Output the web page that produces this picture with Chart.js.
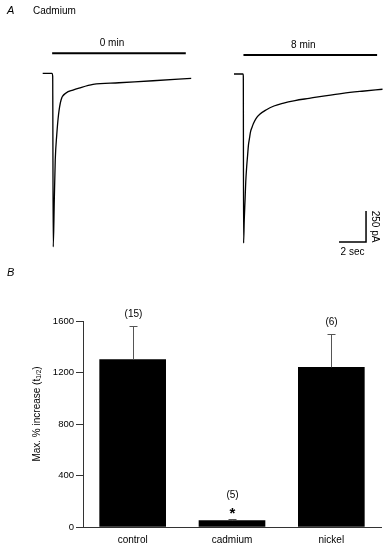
<!DOCTYPE html>
<html>
<head>
<meta charset="utf-8">
<script src="https://cdn.jsdelivr.net/npm/chart.js@4.4.1/dist/chart.umd.min.js"></script>
<style>
html, body { margin: 0; padding: 0; background: #fff; }
#page { position: relative; width: 388px; height: 548px; overflow: hidden; }
#page canvas { position: absolute; }
#barChart { left: 0; top: 0; }
#trace1 { left: 36px; top: 36px; }
#trace2 { left: 228px; top: 36px; }
</style>
</head>
<body>
<div id="page">
  <canvas id="barChart" width="388" height="548"></canvas>
  <canvas id="trace1" width="162" height="226"></canvas>
  <canvas id="trace2" width="160" height="226"></canvas>
</div>
<script>
const FONT = '"Liberation Sans", Arial, sans-serif'

// panel A: current traces (time in s, current in pA)
const trace0minT = [0, 0.69, 0.74, 0.78, 0.86, 0.93, 1.04, 1.17, 1.36, 1.73, 2.24, 2.69, 3.73, 5.65, 8.17, 11.0]
const trace0minI = [0, 0, -22, -1400, -1022, -699, -498, -336, -215, -159, -135, -119, -89, -76, -60, -40]
const trace8minT = [0, 0.67, 0.69, 0.71, 0.76, 0.82, 0.87, 0.94, 1.01, 1.07, 1.15, 1.22, 1.33, 1.44, 1.63, 1.93, 2.37, 2.96, 3.61, 4.52, 5.56, 6.74, 8.05, 9.48, 11.0]
const trace8minI = [0, 0, -16, -1363, -1177, -1016, -871, -748, -653, -573, -516, -468, -431, -399, -359, -323, -290, -258, -236, -214, -196, -176, -156, -139, -123]
const drugOn = [0.7, 10.6]      // application bar, s
const drugLevel = [161, 153]    // pA, where the bar sits above each trace
const drugLabels = ['0 min', '8 min']
const scaleBarT = [7.78, 9.78]  // 2 sec
const scaleBarI = [-1355, -1105] // 250 pA

// panel B: bar chart
const groups = ['control', 'cadmium', 'nickel']
const meanIncrease = [1300, 50, 1240]
const semIncrease = [265, 12, 260]
const nCells = ['(15)', '(5)', '(6)']
const significant = [false, true, false]

function pts(t, v) { return t.map((x, i) => ({x: x, y: v[i]})) }

function traceChart(id, t, cur, xr, yr, idx, withScale) {
    let datasets = [
        {data: pts(t, cur), borderColor: '#000', borderWidth: 1.3, pointRadius: 0, cubicInterpolationMode: 'monotone', clip: false},
        {data: pts(drugOn, [drugLevel[idx], drugLevel[idx]]), borderColor: '#000', borderWidth: 2, pointRadius: 0, clip: false}
    ]
    if (withScale) {
        datasets.push({
            data: [{x: scaleBarT[0], y: scaleBarI[0]}, {x: scaleBarT[1], y: scaleBarI[0]}, {x: scaleBarT[1], y: scaleBarI[1]}],
            borderColor: '#000', borderWidth: 1.5, pointRadius: 0, tension: 0, clip: false
        })
    }
    const labels = {
        id: 'traceLabels',
        afterDraw(chart) {
            const c = chart.ctx, xs = chart.scales.x, ys = chart.scales.y
            c.save()
            c.fillStyle = '#000'
            c.font = '10px ' + FONT
            c.textAlign = 'center'
            c.textBaseline = 'middle'
            let mx = xs.getPixelForValue((drugOn[0] + drugOn[1]) / 2) - 7
            c.fillText(drugLabels[idx], mx, ys.getPixelForValue(drugLevel[idx]) - 10)
            if (withScale) {
                let bx = xs.getPixelForValue(scaleBarT[1])
                let by = ys.getPixelForValue(scaleBarI[0])
                c.fillText('2 sec', (xs.getPixelForValue(scaleBarT[0]) + bx) / 2, by + 10)
                c.save()
                c.translate(bx + 9, (by + ys.getPixelForValue(scaleBarI[1])) / 2)
                c.rotate(Math.PI / 2)
                c.fillText('250 pA', 0, 0)
                c.restore()
            }
            c.restore()
        }
    }
    return new Chart(document.getElementById(id), {
        type: 'line',
        data: {datasets: datasets},
        options: {
            responsive: false,
            animation: false,
            layout: {padding: 0, autoPadding: false},
            plugins: {legend: {display: false}, tooltip: {enabled: false}},
            scales: {
                x: {type: 'linear', min: xr[0], max: xr[1], display: false},
                y: {type: 'linear', min: yr[0], max: yr[1], display: false}
            }
        },
        plugins: [labels]
    })
}

traceChart('trace1', trace0minT, trace0minI, [-0.496, 11.504], [-1522, 301], 0, false)
traceChart('trace2', trace8minT, trace8minI, [-0.444, 11.407], [-1516, 306.5], 1, true)

const errorBars = {
    id: 'errorBars',
    afterDatasetsDraw(chart) {
        const c = chart.ctx, ys = chart.scales.y
        const meta = chart.getDatasetMeta(0)
        c.save()
        meta.data.forEach((bar, i) => {
            let x = Math.round(bar.x) + 0.5
            let yb = ys.getPixelForValue(meanIncrease[i])
            let yt = Math.round(ys.getPixelForValue(meanIncrease[i] + semIncrease[i])) + 0.5
            c.strokeStyle = '#555'
            c.lineWidth = 1
            c.beginPath()
            c.moveTo(x, yb)
            c.lineTo(x, yt)
            c.moveTo(x - 4, yt)
            c.lineTo(x + 4, yt)
            c.stroke()
            c.fillStyle = '#000'
            c.textAlign = 'center'
            c.textBaseline = 'middle'
            c.font = '10px ' + FONT
            if (significant[i]) {
                c.fillText(nCells[i], x, yt - 24)
                c.font = 'bold 15px ' + FONT
                c.fillText('*', x, yt - 6)
            } else {
                c.fillText(nCells[i], x, yt - 12)
            }
        })
        c.restore()
    }
}

const panelText = {
    id: 'panelText',
    afterDraw(chart) {
        const c = chart.ctx
        c.save()
        c.fillStyle = '#000'
        c.textBaseline = 'alphabetic'
        c.textAlign = 'left'
        c.font = 'italic 11px ' + FONT
        c.fillText('A', 7, 14)
        c.fillText('B', 7, 276)
        c.font = '10px ' + FONT
        c.fillText('Cadmium', 33, 14)

        // y title with subscript
        const main = 'Max. % increase (t', sub = '1/2', tail = ')'
        c.font = '10px ' + FONT
        let w1 = c.measureText(main).width, w3 = c.measureText(tail).width
        c.font = '6.5px ' + FONT
        let w2 = c.measureText(sub).width
        let total = w1 + w2 + w3
        c.translate(37, 414)
        c.rotate(-Math.PI / 2)
        c.textBaseline = 'middle'
        let x0 = -total / 2
        c.font = '10px ' + FONT
        c.fillText(main, x0, 0)
        c.font = '6.5px ' + FONT
        c.fillText(sub, x0 + w1, 2.5)
        c.font = '10px ' + FONT
        c.fillText(tail, x0 + w1 + w2, 0)
        c.restore()
    }
}

new Chart(document.getElementById('barChart'), {
    type: 'bar',
    data: {
        labels: groups,
        datasets: [{data: meanIncrease, backgroundColor: '#000', borderWidth: 0, barThickness: 66}]
    },
    options: {
        responsive: false,
        animation: false,
        layout: {padding: {left: 0, right: 7, top: 321, bottom: 0}, autoPadding: false},
        plugins: {legend: {display: false}, tooltip: {enabled: false}},
        scales: {
            x: {
                grid: {display: true, drawOnChartArea: false, drawTicks: false},
                border: {display: true, color: '#333', width: 1},
                ticks: {color: '#000', font: {family: FONT, size: 10}, padding: 7},
                afterFit(s) { s.height = 21 }
            },
            y: {
                min: 0,
                max: 1600,
                ticks: {stepSize: 400, color: '#000', font: {family: FONT, size: 9.5}, padding: 2, callback: (v) => String(v)},
                grid: {drawOnChartArea: false, drawTicks: true, tickLength: 7, color: '#333'},
                border: {display: true, color: '#333', width: 1},
                afterFit(s) { s.width = 83 }
            }
        }
    },
    plugins: [errorBars, panelText]
})
</script>
</body>
</html>
